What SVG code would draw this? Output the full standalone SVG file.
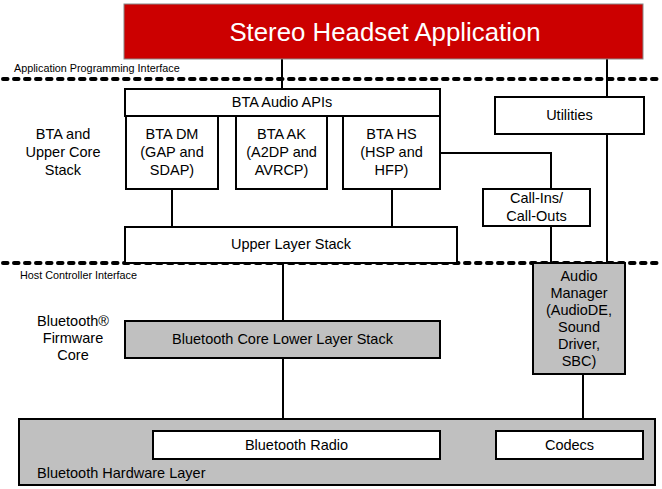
<svg xmlns="http://www.w3.org/2000/svg" width="662" height="489" viewBox="0 0 662 489">
<style>
text{font-family:"Liberation Sans",Arial,sans-serif;font-size:14.5px;fill:#000;text-anchor:middle}
.box{fill:#fff;stroke:#000;stroke-width:2}
.gray{fill:#c0c0c0;stroke:#000;stroke-width:2}
.dash{stroke:#000;stroke-width:4;stroke-dasharray:4.5 6.5;stroke-linecap:round;fill:none}
.conn{stroke:#000;stroke-width:2;fill:none}
.small{font-size:10.8px;text-anchor:start}
.left{text-anchor:start}
</style>
<rect width="662" height="489" fill="#fff"/>
<g id="interfaces">
<line class="dash" x1="3" y1="79" x2="662" y2="79"/>
<line class="dash" x1="3" y1="263" x2="662" y2="263"/>
<text class="small" x="14" y="72">Application Programming Interface</text>
<text class="small" x="20" y="279">Host Controller Interface</text>
</g>
<g id="labels">
<text x="63" y="139">BTA and</text>
<text x="63" y="157">Upper Core</text>
<text x="63" y="175">Stack</text>
<text x="73" y="326">Bluetooth®</text>
<text x="73" y="343">Firmware</text>
<text x="73" y="360">Core</text>
</g>
<g id="connectors">
<line class="conn" x1="282" y1="59" x2="282" y2="89"/>
<line class="conn" x1="607" y1="59" x2="607" y2="97"/>
<line class="conn" x1="172" y1="189" x2="172" y2="227"/>
<line class="conn" x1="392" y1="189" x2="392" y2="227"/>
<polyline class="conn" points="440,153 551,153 551,189"/>
<line class="conn" x1="551" y1="226" x2="551" y2="263"/>
<line class="conn" x1="607" y1="134" x2="607" y2="263"/>
<line class="conn" x1="283" y1="263" x2="283" y2="321"/>
<line class="conn" x1="283" y1="358" x2="283" y2="431"/>
<line class="conn" x1="583" y1="374" x2="583" y2="431"/>
</g>
<g id="app">
<rect x="124" y="4" width="519" height="55" fill="#cc0000" stroke="#888" stroke-width="1"/>
<text x="385" y="41" style="font-size:25.8px;fill:#fff">Stereo Headset Application</text>
</g>
<g id="bta-audio-apis">
<rect class="box" x="125" y="89" width="315" height="27"/>
<text x="282" y="107">BTA Audio APIs</text>
</g>
<g id="bta-dm">
<rect class="box" x="126" y="116" width="92" height="73"/>
<text x="172" y="139">BTA DM</text>
<text x="172" y="157">(GAP and</text>
<text x="172" y="175">SDAP)</text>
</g>
<g id="bta-ak">
<rect class="box" x="236" y="116" width="91" height="73"/>
<text x="281.5" y="139">BTA AK</text>
<text x="281.5" y="157">(A2DP and</text>
<text x="281.5" y="175">AVRCP)</text>
</g>
<g id="bta-hs">
<rect class="box" x="343" y="116" width="97" height="73"/>
<text x="391.5" y="139">BTA HS</text>
<text x="391.5" y="157">(HSP and</text>
<text x="391.5" y="175">HFP)</text>
</g>
<g id="utilities">
<rect class="box" x="495" y="97" width="149" height="37"/>
<text x="569.5" y="120">Utilities</text>
</g>
<g id="call-ins">
<rect class="box" x="483" y="189" width="107" height="37"/>
<text x="536.5" y="203">Call-Ins/</text>
<text x="536.5" y="221">Call-Outs</text>
</g>
<g id="upper-layer-stack">
<rect class="box" x="125" y="227" width="332" height="36"/>
<text x="291" y="249">Upper Layer Stack</text>
</g>
<g id="audio-manager">
<rect class="gray" x="533" y="263" width="92" height="111"/>
<text x="579" y="281">Audio</text>
<text x="579" y="298">Manager</text>
<text x="579" y="315">(AudioDE,</text>
<text x="579" y="332">Sound</text>
<text x="579" y="349">Driver,</text>
<text x="579" y="366">SBC)</text>
</g>
<g id="core-lower">
<rect class="gray" x="125" y="321" width="315" height="37"/>
<text x="282.5" y="344">Bluetooth Core Lower Layer Stack</text>
</g>
<g id="hardware-layer">
<rect class="gray" x="19" y="419" width="636" height="66"/>
<text class="left" x="37" y="478">Bluetooth Hardware Layer</text>
</g>
<g id="bluetooth-radio">
<rect class="box" x="153" y="431" width="287" height="28"/>
<text x="296.5" y="450">Bluetooth Radio</text>
</g>
<g id="codecs">
<rect class="box" x="496" y="431" width="147" height="28"/>
<text x="569.5" y="450">Codecs</text>
</g>
</svg>
